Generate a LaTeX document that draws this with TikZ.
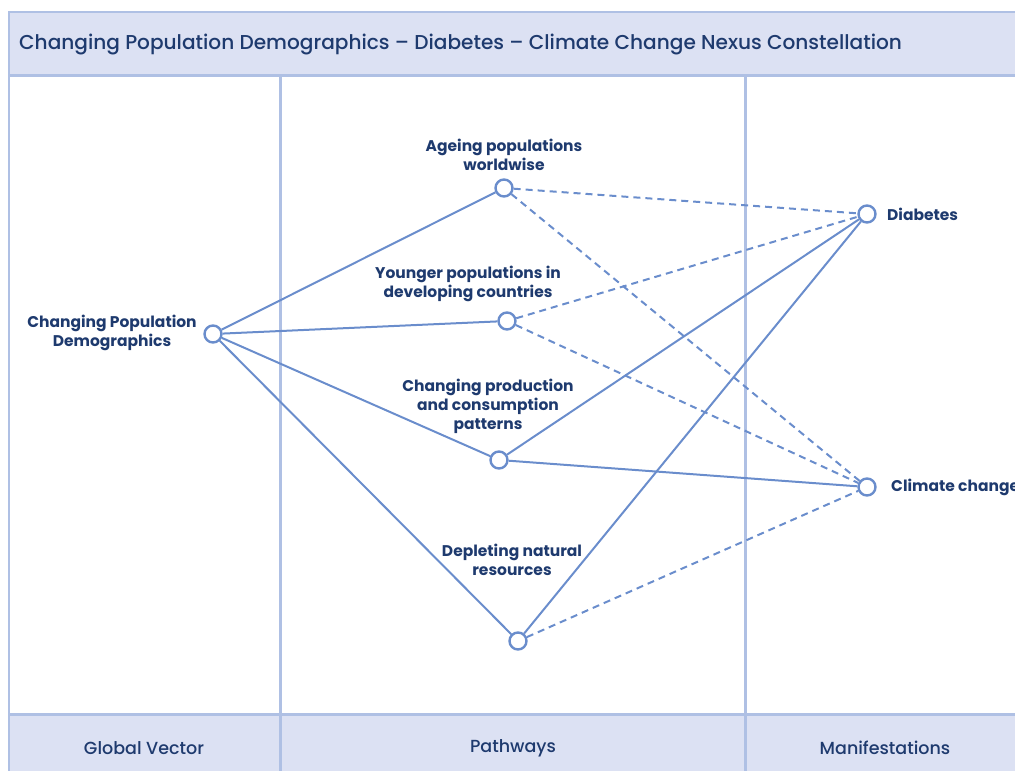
\documentclass[tikz,border=0pt]{standalone}
\usepackage{fontspec}
\setmainfont{Poppins}
\newfontfamily\medfont{Poppins Medium}
\definecolor{bandfill}{HTML}{DCE1F3}
\definecolor{bandline}{HTML}{AFC0E4}
\definecolor{linkblue}{HTML}{6A8DCC}
\definecolor{labelnavy}{HTML}{1E3A6E}

\tikzset{
  dot/.style={circle, draw=linkblue, line width=2.4pt, fill=white, minimum size=17pt, inner sep=0pt},
  lbl/.style={text=labelnavy, font=\fontsize{15.5}{19}\selectfont\bfseries, align=center, inner sep=1pt},
  head/.style={text=labelnavy, font=\fontsize{17.5}{20}\selectfont\medfont, inner sep=1pt},
  solidlink/.style={draw=linkblue, line width=2pt},
  dashlink/.style={draw=linkblue, line width=2pt, dash pattern=on 7pt off 5pt},
  rule/.style={draw=bandline, line width=3pt}
}

\begin{document}
\begin{tikzpicture}[x=1pt,y=-1pt]
    % Frame parameters (picture is laid out in pixel units, y downwards)
    \def\W{1015} % width of the page
    \def\H{771}  % height of the page
    \def\fx{9}   % left edge of the frame
    \def\ft{12}  % top edge of the frame
    \def\hb{75}  % bottom of the title band
    \def\fb{714} % top of the footer band
    \def\ca{280} % first column divider
    \def\cb{745} % second column divider

    \useasboundingbox (0,0) rectangle (\W,\H);

    % Title band and footer band
    \fill[bandfill] (\fx,\ft) rectangle (\W+2,\hb);
    \fill[bandfill] (\fx,\fb) rectangle (\W+2,\H+2);
    \draw[draw=bandline, line width=2pt] (\W+2,\ft) -- (\fx,\ft) -- (\fx,\H+2);
    \draw[rule] (\fx,\hb) -- (\W+2,\hb);
    \draw[rule] (\fx,\fb) -- (\W+2,\fb);

    % Column dividers
    \draw[rule] (\ca,\hb) -- (\ca,\H+2);
    \draw[rule] (\cb,\hb) -- (\cb,\H+2);

    % Title and column headings
    \node[head, anchor=west, font=\fontsize{20.1}{22}\selectfont\medfont] (title) at (18,44)
        {Changing Population Demographics – Diabetes – Climate Change Nexus Constellation};
    \node[head] (colA) at (144,748) {Global Vector};
    \node[head] (colB) at (513,748) {Pathways};
    \node[head] (colC) at (885,748) {Manifestations};

    % Vector, pathway and manifestation points
    \node[dot] (cpd) at (213,334) {};
    \node[dot] (age) at (504,188) {};
    \node[dot] (young) at (507,321) {};
    \node[dot] (prod) at (499,460) {};
    \node[dot] (deplete) at (518,641) {};
    \node[dot] (diab) at (867,214) {};
    \node[dot] (climate) at (867,487) {};

    % Solid links
    \draw[solidlink] (cpd) -- (age);
    \draw[solidlink] (cpd) -- (young);
    \draw[solidlink] (cpd) -- (prod);
    \draw[solidlink] (cpd) -- (deplete);
    \draw[solidlink] (prod) -- (diab);
    \draw[solidlink] (prod) -- (climate);
    \draw[solidlink] (deplete) -- (diab);

    % Dashed links
    \draw[dashlink] (age) -- (diab);
    \draw[dashlink] (age) -- (climate);
    \draw[dashlink] (young) -- (diab);
    \draw[dashlink] (young) -- (climate);
    \draw[dashlink] (deplete) -- (climate);

    % Point labels
    \node[lbl] (cpdL) at (112,333) {Changing Population\\Demographics};
    \node[lbl] (ageL) at (504,155) {Ageing populations\\worldwise};
    \node[lbl] (youngL) at (468,284) {Younger populations in\\developing countries};
    \node[lbl] (prodL) at (488,406) {Changing production\\and consumption\\patterns};
    \node[lbl] (depleteL) at (512,560) {Depleting natural\\resources};
    \node[lbl, anchor=west] (diabL) at (886,214) {Diabetes};
    \node[lbl, anchor=west] (climateL) at (890,487) {Climate change};
\end{tikzpicture}
\end{document}
